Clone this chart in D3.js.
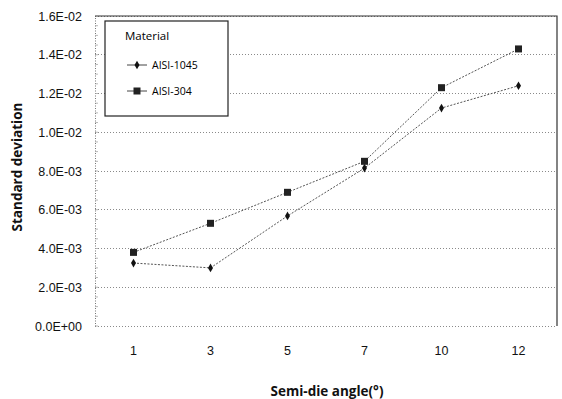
<!DOCTYPE html>
<html lang="en">
	<head>
		<meta charset="utf-8">
		<title>Standard deviation vs semi-die angle</title>
		<style type="text/css">
			body {
				margin: 0;
				background-color: white;
				font-family: "Open Sans", "Liberation Sans", sans-serif;
			}
			.grid line {
				stroke: #8a8a8a;
				stroke-dasharray: 1,2;
				shape-rendering: crispEdges;
			}
			.axis text {
				font-size: 12.5px;
				fill: #111;
			}
			.axis path, .axis line {
				stroke: #777;
				stroke-dasharray: 1,1.5;
			}
			.title {
				font-size: 13.5px;
				font-weight: bold;
				fill: #111;
			}
			.series {
				fill: none;
				stroke: #555;
				stroke-width: 1;
				stroke-dasharray: 2,1.5;
			}
		</style>
	</head>
	<body>
	<script type="text/javascript" src="https://cdnjs.cloudflare.com/ajax/libs/d3/7.8.5/d3.min.js"></script>
	<script type="text/javascript">

		// data
		var angles = ["1", "3", "5", "7", "10", "12"];
		var aisi1045 = [0.00325, 0.0030, 0.00568, 0.00815, 0.01125, 0.0124];
		var aisi304 = [0.0038, 0.0053, 0.0069, 0.0085, 0.0123, 0.0143];
		var yTicks = [0, 0.002, 0.004, 0.006, 0.008, 0.010, 0.012, 0.014, 0.016];

		var fullwidth = 562;
		var fullheight = 399;
		var margin = { top: 16, right: 5, bottom: 73, left: 95 };
		var width = fullwidth - margin.left - margin.right;
		var height = fullheight - margin.top - margin.bottom;

		var svg = d3.select("body")
			.append("svg")
			.attr("width", fullwidth)
			.attr("height", fullheight)
			.append("g")
			.attr("transform", "translate(" + margin.left + "," + margin.top + ")");

		var xScale = d3.scaleBand()
			.domain(angles)
			.range([0, width]);

		var yScale = d3.scaleLinear()
			.domain([0, 0.016])
			.range([height, 0]);

		function fmt(v) {
			// Excel style 0.0E+00
			var s = v.toExponential(1).toUpperCase();
			var parts = s.split("E");
			var e = parseInt(parts[1]);
			var sign = e < 0 ? "-" : "+";
			var ea = Math.abs(e);
			return parts[0] + "E" + sign + (ea < 10 ? "0" : "") + ea;
		}

		// gridlines
		svg.append("g")
			.attr("class", "grid")
			.selectAll("line")
			.data(yTicks)
			.enter()
			.append("line")
			.attr("x1", 0)
			.attr("x2", width)
			.attr("y1", function(d) { return yScale(d); })
			.attr("y2", function(d) { return yScale(d); });

		// plot frame: solid top and right
		svg.append("path")
			.attr("d", "M0,0H" + width + "V" + height)
			.attr("fill", "none")
			.attr("stroke", "#333")
			.attr("stroke-width", 1.2);

		var yAxis = d3.axisLeft(yScale)
			.tickValues(yTicks)
			.tickFormat(fmt)
			.tickSize(0)
			.tickPadding(13);

		svg.append("g")
			.attr("class", "y axis")
			.call(yAxis);

		// minor ticks on the left axis
		svg.append("g")
			.selectAll("line")
			.data(d3.range(0, 0.016, 0.0005))
			.enter()
			.append("line")
			.attr("x1", 0)
			.attr("x2", 3)
			.attr("y1", function(d) { return yScale(d); })
			.attr("y2", function(d) { return yScale(d); })
			.attr("stroke", "#999")
			.attr("stroke-width", 0.7);

		var xAxis = d3.axisBottom(xScale)
			.tickSize(0)
			.tickPadding(20);

		svg.append("g")
			.attr("class", "x axis")
			.attr("transform", "translate(0," + height + ")")
			.call(xAxis)
			.select(".domain").remove();

		var line = d3.line()
			.x(function(d, i) { return xScale(angles[i]) + xScale.bandwidth() / 2; })
			.y(function(d) { return yScale(d); });

		svg.append("path")
			.datum(aisi1045)
			.attr("class", "series")
			.attr("d", line);

		svg.append("path")
			.datum(aisi304)
			.attr("class", "series")
			.attr("d", line);

		var diamond = d3.symbol().type(d3.symbolDiamond).size(22);

		svg.selectAll("path.m1045")
			.data(aisi1045)
			.enter()
			.append("path")
			.attr("class", "m1045")
			.attr("d", diamond)
			.attr("fill", "#111")
			.attr("transform", function(d, i) {
				return "translate(" + (xScale(angles[i]) + xScale.bandwidth() / 2) + "," + yScale(d) + ")";
			});

		svg.selectAll("rect.m304")
			.data(aisi304)
			.enter()
			.append("rect")
			.attr("class", "m304")
			.attr("x", function(d, i) { return xScale(angles[i]) + xScale.bandwidth() / 2 - 3.5; })
			.attr("y", function(d) { return yScale(d) - 3.5; })
			.attr("width", 7)
			.attr("height", 7)
			.attr("fill", "#222");

		// axis titles
		svg.append("text")
			.attr("class", "title")
			.attr("transform", "translate(" + (-73) + "," + (height / 2 - 4) + ") rotate(-90)")
			.style("text-anchor", "middle")
			.text("Standard deviation");

		svg.append("text")
			.attr("class", "title")
			.attr("x", width / 2 + 1)
			.attr("y", height + 70)
			.style("text-anchor", "middle")
			.text("Semi-die angle(°)");

		// legend
		var legend = svg.append("g")
			.attr("transform", "translate(10,5)");

		legend.append("rect")
			.attr("width", 123)
			.attr("height", 95)
			.attr("fill", "white")
			.attr("stroke", "#222")
			.attr("stroke-width", 1.2);

		legend.append("text")
			.attr("x", 42)
			.attr("y", 19)
			.attr("font-size", 11.5)
			.attr("text-anchor", "middle")
			.text("Material");

		var entries = [
			{ name: "AISI-1045", y: 44 },
			{ name: "AISI-304", y: 70 }
		];

		entries.forEach(function(e, i) {
			legend.append("line")
				.attr("x1", 22)
				.attr("x2", 42)
				.attr("y1", e.y)
				.attr("y2", e.y)
				.attr("stroke", "#444");
			if (i === 0) {
				legend.append("path")
					.attr("d", diamond)
					.attr("fill", "#111")
					.attr("transform", "translate(32," + e.y + ")");
			} else {
				legend.append("rect")
					.attr("x", 28.5)
					.attr("y", e.y - 3.5)
					.attr("width", 7)
					.attr("height", 7)
					.attr("fill", "#222");
			}
			legend.append("text")
				.attr("x", 47)
				.attr("y", e.y + 4)
				.attr("font-size", 10.5)
				.text(e.name);
		});

	</script>
	</body>
</html>
